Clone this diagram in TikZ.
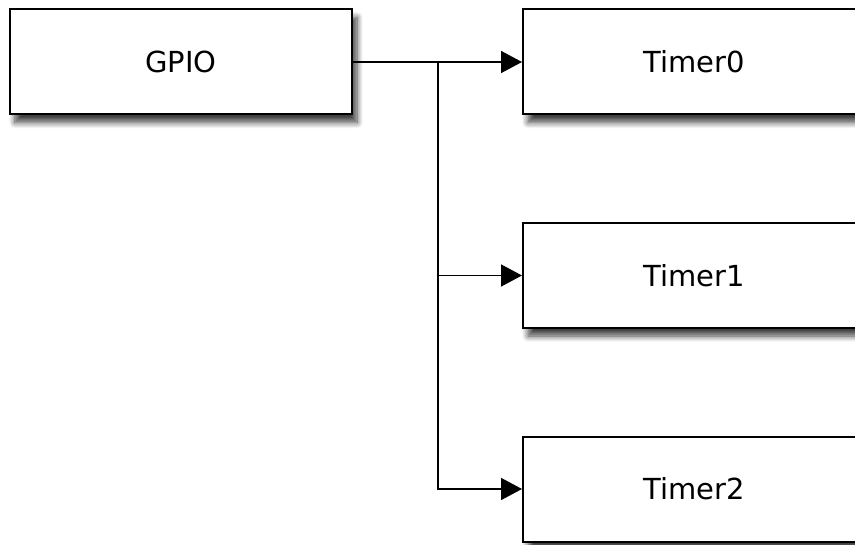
\documentclass[tikz,border=0pt]{standalone}
\usepackage{fontspec}
\setmainfont{DejaVu Sans}
\usetikzlibrary{
  arrows.meta,
  positioning,
  shadows.blur
}

\begin{document}
\begin{tikzpicture}[x=0.5pt,y=-0.5pt,
  block/.style={draw=black,line width=1pt,fill=white,
    minimum width=171pt,minimum height=52.5pt,inner sep=0pt,
    font=\fontsize{14.5}{17}\selectfont,
    blur shadow={shadow xshift=2.5pt,shadow yshift=-4pt,
      shadow blur radius=3pt,shadow blur steps=8,shadow opacity=75}},
  link/.style={line width=0.75pt,-{Triangle[length=10.5pt,width=11pt]}}]
\useasboundingbox (0,0) rectangle (855,545);
\clip (0,0) rectangle (855,545);
% blocks
\node[block] (gpio) at (181,62) {GPIO};
\foreach \i/\y in {0/62,1/275.5,2/489}{
  \node[block] (timer\i) at (694,\y) {Timer\i};
}
% fan-out from GPIO
\coordinate (fork) at (438,62);
\draw[link] (gpio.east) -- (timer0.west);
\draw[link] (fork) |- (timer1.west);
\draw[link] (fork) |- (timer2.west);
\end{tikzpicture}
\end{document}
